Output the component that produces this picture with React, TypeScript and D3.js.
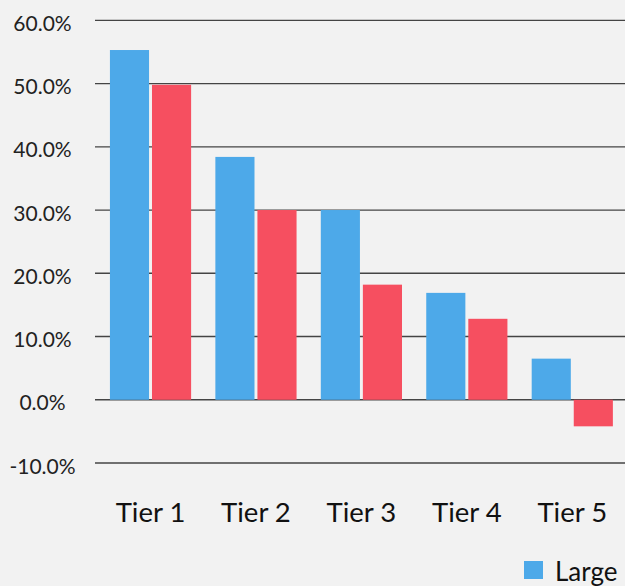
import React from 'react';
import * as d3 from 'd3';

const tiers = ['Tier 1', 'Tier 2', 'Tier 3', 'Tier 4', 'Tier 5'];
const seriesNames = ['Large', 'Small'];
const largeValues = [55.3, 38.4, 30.0, 16.9, 6.5];
const smallValues = [49.8, 30.0, 18.2, 12.8, -4.2];
const yTicks = [-10, 0, 10, 20, 30, 40, 50, 60];
const colors = ['#4da9e9', '#f64f60'];

const width = 625;
const height = 586;
const font = 'Lato, "Noto Sans", sans-serif';

// plain hyphen for negatives, like the original
const fmt = (t: number) => t.toFixed(1) + '%';

const App = () => {
    const y = d3.scaleLinear().domain([-10, 60]).range([463, 20.3]);

    const x0 = d3.scaleBand()
        .domain(tiers)
        .range([97.8, 625])
        .paddingInner(0.23)
        .paddingOuter(0.115);

    const x1 = d3.scaleBand()
        .domain(seriesNames)
        .range([0, x0.bandwidth()])
        .paddingInner(0.07);

    const rows = tiers.map((t, i) => ({ tier: t, values: [largeValues[i], smallValues[i]] }));

    return (
        <svg width={width} height={height} style={{ position: 'absolute', left: 0, top: 0, background: '#f2f2f2' }}>
            <rect width={width} height={height} fill="#f2f2f2" />
            {yTicks.map(t => (
                <g key={t}>
                    <line x1={95} x2={width} y1={y(t)} y2={y(t)} stroke="#444" strokeWidth={1.3} />
                    <text x={42.5} y={y(t) + 10.6} textAnchor="middle" fontFamily={font} fontSize={21} fill="#222">
                        {fmt(t)}
                    </text>
                </g>
            ))}
            {rows.map(r => (
                <g key={r.tier} transform={`translate(${x0(r.tier)},0)`}>
                    {r.values.map((v, j) => (
                        <rect key={j}
                            x={x1(seriesNames[j])}
                            width={x1.bandwidth()}
                            y={y(Math.max(0, v))}
                            height={Math.abs(y(v) - y(0))}
                            fill={colors[j]} />
                    ))}
                    <text x={x0.bandwidth() / 2} y={522} textAnchor="middle" fontFamily={font} fontSize={27.5} fill="#111">
                        {r.tier}
                    </text>
                </g>
            ))}
            {/* legend: only the first entry fits inside the frame */}
            <g transform="translate(524,561)">
                <rect width={19} height={18} fill={colors[0]} />
                <text x={31} y={19.5} fontFamily={font} fontSize={26} fill="#111">{seriesNames[0]}</text>
            </g>
        </svg>
    );
};

export default App;
